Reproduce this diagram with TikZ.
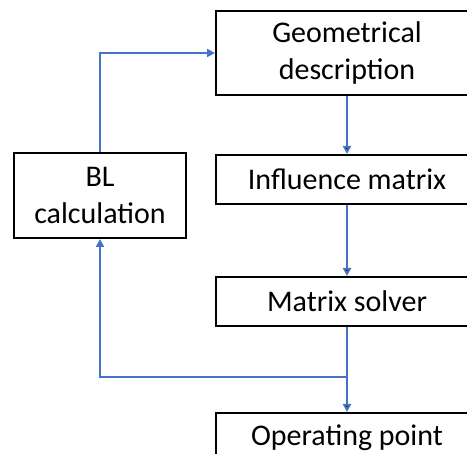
\documentclass[tikz,border=0pt]{standalone}
\usepackage{fontspec}
\setmainfont{Carlito}
\usepackage{xcolor}
\usetikzlibrary{arrows.meta,positioning}
\definecolor{flowblue}{HTML}{4472C4}

\begin{document}
\begin{tikzpicture}[>={Triangle[length=8pt,width=8pt]},x=1pt,y=-1pt,node distance=58pt,semithick]
      \tikzstyle{block}=[draw=black,line width=2pt,fill=white,text=black,align=center,minimum width=262pt,minimum height=49pt,font=\fontsize{30}{37}\selectfont]
      \tikzstyle{link}=[->,draw=flowblue,line width=2pt]
      \useasboundingbox (0,0) rectangle (467,454);
      \clip (0,0) rectangle (467,454);

      \node[block,minimum height=84pt] (geo) at (347,53) {Geometrical\\description};
      \node[block]                     (inf) [below=of geo] {Influence matrix};
      \node[block,node distance=71pt]  (sol) [below=of inf] {Matrix solver};
      \node[block,node distance=85pt]  (op)  [below=of sol] {Operating point};
      \node[block,minimum width=172pt,minimum height=85pt] (bl) at (100,195.5) {BL\\calculation};
      \coordinate (split) at (sol.south |- 0,377);

      \path[link] (geo) edge (inf)
                  (inf) edge (sol)
                  (sol) edge (op);
      \draw[link] (split) -| (bl.south);
      \draw[link] (bl.north) |- (geo.west);
    \end{tikzpicture}
\end{document}
